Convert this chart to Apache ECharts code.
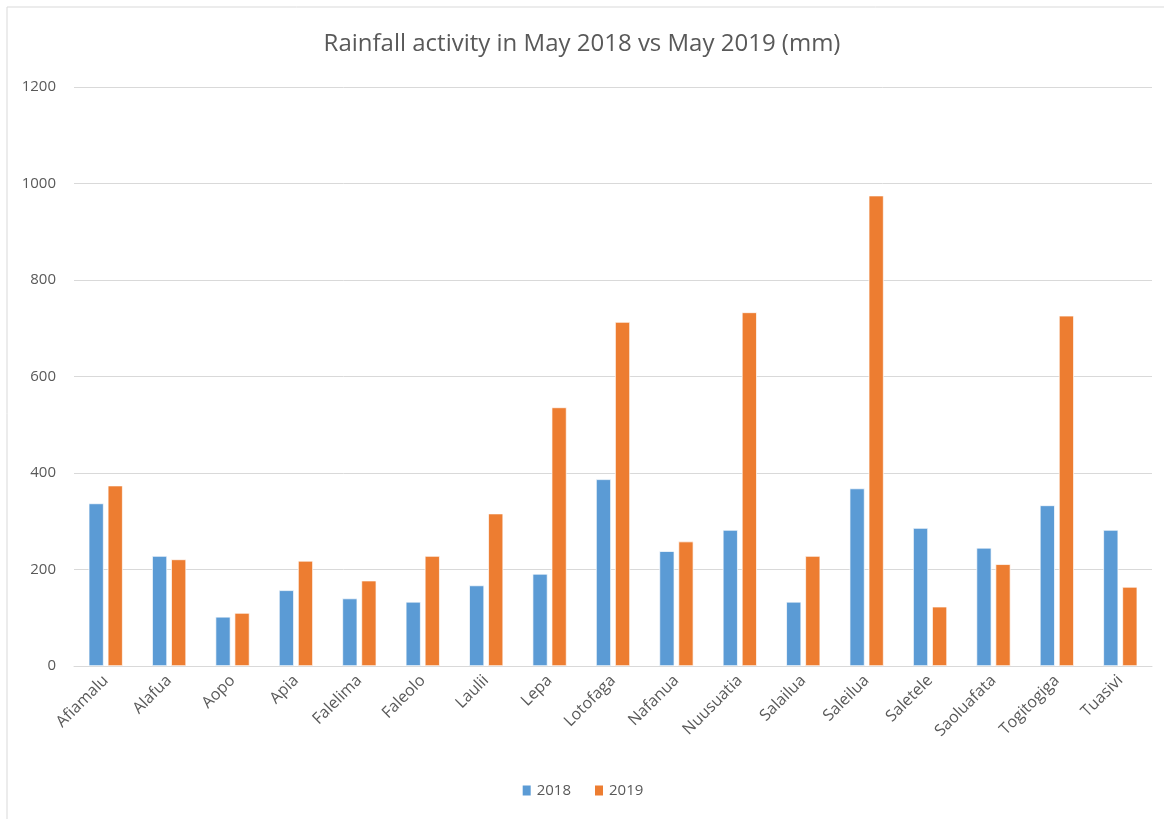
<!DOCTYPE html>
<html>
<head>
<meta charset="utf-8">
<script src="https://cdn.jsdelivr.net/npm/echarts@6/dist/echarts.min.js"></script>
<style>
  html, body { margin: 0; padding: 0; background: #fff; }
  #chart { width: 1164px; height: 819px; }
</style>
</head>
<body>
<div id="chart"></div>
<script>
// villages
var villages = ['Afiamalu', 'Alafua', 'Aopo', 'Apia', 'Falelima', 'Faleolo', 'Laulii', 'Lepa',
    'Lotofaga', 'Nafanua', 'Nuusuatia', 'Salailua', 'Saleilua', 'Saletele', 'Saoluafata',
    'Togitogiga', 'Tuasivi'];

// rainfall in mm
var rain2018 = [337, 228, 102, 157, 140, 133, 167, 191, 387, 238, 282, 133, 368, 286, 245, 333, 282];
var rain2019 = [374, 221, 110, 218, 177, 228, 316, 536, 713, 258, 733, 228, 975, 123, 211, 726, 164];

var seriesNames = ['2018', '2019'];
var seriesColors = ['#5B9BD5', '#ED7D31'];

var chart = echarts.init(document.getElementById('chart'));

var txt = '#595959';
var font = 'Open Sans';

var option = {
    animation: false,
    backgroundColor: '#fff',
    graphic: [{
        type: 'polyline',
        shape: { points: [[7, 830], [7, 7], [1170, 7]] },
        style: { stroke: '#d9d9d9', fill: null, lineWidth: 1 }
    }],
    title: {
        text: 'Rainfall activity in May 2018 vs May 2019 (mm)',
        left: 'center',
        top: 27,
        textStyle: { color: txt, fontFamily: font, fontSize: 24, fontWeight: 'normal' }
    },
    legend: {
        data: seriesNames,
        bottom: 16,
        left: 'center',
        itemWidth: 10,
        itemHeight: 12,
        itemGap: 22,
        icon: 'rect',
        textStyle: { color: txt, fontFamily: font, fontSize: 15 }
    },
    grid: { left: 74, right: 12, top: 87, bottom: 153, containLabel: false },
    xAxis: {
        type: 'category',
        data: villages,
        axisLine: { lineStyle: { color: '#d9d9d9', width: 1 } },
        axisTick: { show: false },
        axisLabel: {
            rotate: 45,
            interval: 0,
            color: txt,
            fontFamily: font,
            fontSize: 16,
            margin: 12
        }
    },
    yAxis: {
        type: 'value',
        min: 0,
        max: 1200,
        interval: 200,
        axisLine: { show: false },
        axisTick: { show: false },
        axisLabel: {
            color: txt, fontFamily: font, fontSize: 15, margin: 18,
            formatter: function (v) { return String(v); }
        },
        splitLine: { lineStyle: { color: '#d9d9d9', width: 1 } }
    },
    series: seriesNames.map(function (name, i) {
        return {
            name: name,
            type: 'bar',
            data: i === 0 ? rain2018 : rain2019,
            barWidth: 15,
            barGap: '27%',
            itemStyle: {
                color: seriesColors[i],
                borderColor: '#fff',
                borderWidth: 0.7
            }
        };
    })
};

chart.setOption(option);
</script>
</body>
</html>
